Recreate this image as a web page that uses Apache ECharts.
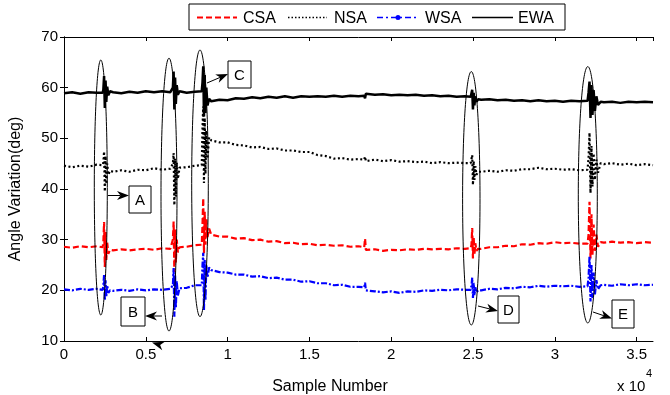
<!DOCTYPE html>
<html>
<head>
<meta charset="utf-8">
<script src="https://cdn.jsdelivr.net/npm/echarts/dist/echarts.min.js"></script>
<style>
  html, body { margin: 0; padding: 0; background: #fff; }
  #chart { width: 670px; height: 395px; }
</style>
</head>
<body>
<div id="chart"></div>
<script>
// sample index (x axis), dense clusters around the five disturbances A..E
const samples = [
  0, 500, 1000, 1500, 2000,
  2360, 2405, 2450, 2495, 2540, 2585, 2640, 2710, 2810,
  3000, 3500, 4000, 4500, 5000, 5500, 6000, 6500,
  6610, 6655, 6700, 6745, 6790, 6835, 6890, 6960, 7060,
  7500, 8000,
  8420, 8465, 8510, 8555, 8600, 8645, 8700, 8770, 8870,
  9000, 9500, 10000, 10500, 11000, 11500, 12000, 12500, 13000, 13500,
  14000, 14500, 15000, 15500, 16000, 16500, 17000, 17500,
  18000, 18350, 18400, 18450,
  19000, 19500, 20000, 20500, 21000, 21500, 22000, 22500, 23000, 23500, 24000, 24500,
  24860, 24905, 24950, 24995, 25040, 25085, 25140, 25210, 25310,
  25500, 26000, 26500, 27000, 27500, 28000, 28500, 29000, 29500, 30000, 30500, 31000, 31500,
  32000, 32060, 32120, 32180, 32240, 32300, 32370, 32450, 32540, 32640,
  32800, 33000, 33500, 34000, 34500, 35000, 35500, 36000
];

const csa = [
  28.6, 28.4, 28.7, 28.5, 28.7,
  28.5, 29.5, 33.5, 24.6, 31.5, 26.0, 29.4, 27.2, 28.0,
  27.9, 28.1, 27.9, 28.1, 28.2, 28.0, 28.3, 28.2,
  28.3, 30.0, 33.6, 23.6, 32.0, 25.5, 30.0, 27.5, 28.5,
  28.6, 28.9,
  29.0, 33.0, 38.2, 27.3, 35.5, 29.0, 34.0, 30.5, 32.2,
  31.0, 30.6, 30.6, 30.2, 30.3, 29.9, 30.0, 29.6, 29.7, 29.3,
  29.4, 29.1, 29.2, 28.9, 29.0, 28.8, 28.9, 28.6,
  28.7, 28.5, 30.2, 28.0,
  28.1, 27.8, 28.0, 27.9, 28.1, 28.0, 28.2, 28.1, 28.2, 28.1, 28.3, 28.2,
  28.3, 29.0, 32.3, 26.3, 30.5, 27.0, 29.3, 27.8, 28.2,
  28.2, 28.5, 28.5, 28.8, 28.7, 29.1, 29.0, 29.3, 29.2, 29.5, 29.3, 29.4, 29.2,
  29.2, 31.0, 37.5, 26.3, 35.0, 27.0, 33.0, 27.8, 31.0, 28.6,
  29.5, 29.4, 29.6, 29.4, 29.5, 29.3, 29.5, 29.4
];

const nsa = [
  44.6, 44.3, 44.6, 44.4, 44.8,
  44.7, 45.2, 47.4, 39.5, 46.5, 41.0, 45.0, 42.8, 43.6,
  43.4, 43.7, 43.4, 43.8, 43.7, 44.1, 43.8, 44.0,
  44.1, 45.0, 47.1, 36.8, 46.0, 38.5, 45.2, 42.0, 44.2,
  44.3, 44.6,
  44.7, 52.0, 56.3, 41.2, 54.0, 43.0, 51.5, 46.0, 50.2,
  49.6, 49.2, 49.2, 48.7, 48.6, 48.2, 48.3, 47.9, 48.0, 47.6,
  47.6, 47.3, 47.3, 46.7, 46.5, 46.0, 46.1, 45.8,
  45.9, 45.8, 46.4, 45.5,
  45.8, 45.5, 45.7, 45.4, 45.5, 45.3, 45.4, 45.1, 45.3, 45.1, 45.2, 45.1,
  45.1, 45.4, 46.7, 40.8, 45.5, 41.8, 44.5, 42.8, 43.4,
  43.4, 43.6, 43.4, 43.7, 43.6, 43.9, 43.9, 44.2, 43.9, 44.0, 43.8, 43.9, 43.7,
  43.8, 46.0, 51.1, 39.2, 48.5, 40.5, 47.0, 41.8, 45.8, 43.2,
  45.1, 44.9, 45.1, 44.8, 45.0, 44.7, 44.9, 44.7
];

const wsa = [
  20.2, 20.0, 20.3, 20.1, 20.3,
  20.1, 20.8, 23.1, 18.1, 22.0, 18.8, 21.0, 19.5, 20.0,
  19.9, 20.1, 19.9, 20.2, 20.0, 20.2, 20.1, 20.3,
  20.2, 21.0, 24.4, 14.8, 23.0, 16.5, 21.8, 19.0, 20.4,
  20.5, 21.0,
  21.0, 25.0, 27.4, 16.1, 26.0, 18.0, 25.0, 22.5, 24.5,
  24.0, 23.6, 23.5, 23.1, 23.1, 22.7, 22.8, 22.4, 22.5, 22.1,
  22.1, 21.7, 21.8, 21.4, 21.4, 21.0, 21.1, 20.7,
  20.7, 20.6, 21.5, 20.0,
  19.8, 19.6, 19.8, 19.5, 19.8, 19.7, 20.0, 19.9, 20.1, 20.0, 20.2, 20.1,
  20.1, 20.8, 22.5, 18.5, 21.5, 19.0, 20.6, 19.6, 20.0,
  20.0, 20.3, 20.2, 20.5, 20.4, 20.7, 20.6, 20.9, 20.7, 20.9, 20.8, 20.9, 20.7,
  20.8, 22.5, 26.7, 17.8, 25.0, 18.5, 23.5, 19.2, 22.0, 20.2,
  21.0, 21.1, 20.9, 21.2, 21.0, 21.2, 21.0, 21.1
];

const ewa = [
  58.9, 59.1, 58.8, 59.1, 59.0,
  59.0, 59.6, 62.3, 56.0, 61.4, 57.2, 60.2, 58.5, 59.3,
  59.1, 58.9, 59.2, 59.0, 59.3, 59.1, 59.3, 59.1,
  59.2, 60.0, 63.2, 55.7, 62.0, 56.8, 60.5, 58.6, 59.3,
  59.0, 59.2,
  59.3, 61.0, 64.2, 54.3, 62.5, 55.0, 60.0, 56.5, 57.8,
  57.3, 57.6, 57.5, 57.9, 57.8, 58.1, 57.9, 58.2, 58.0, 58.3,
  58.0, 58.3, 58.2, 58.3, 58.2, 58.4, 58.2, 58.4,
  58.3, 58.4, 57.9, 58.8,
  58.6, 58.7, 58.5, 58.6, 58.5, 58.6, 58.4, 58.5, 58.3, 58.4, 58.2, 58.3,
  58.2, 58.5, 59.6, 55.7, 59.0, 56.5, 58.3, 57.2, 57.7,
  57.6, 57.7, 57.5, 57.6, 57.4, 57.5, 57.3, 57.5, 57.3, 57.4, 57.2, 57.4, 57.3,
  57.4, 59.0, 61.2, 54.0, 60.5, 54.6, 59.5, 55.4, 58.3, 56.6,
  57.2, 57.1, 57.2, 57.0, 57.2, 57.1, 57.2, 57.1
];

const seriesNames = ['CSA', 'NSA', 'WSA', 'EWA'];
const yTicks = [10, 20, 30, 40, 50, 60, 70];
const eventLabels = ['A', 'B', 'C', 'D', 'E'];

const FONT = '"Liberation Sans", Arial, sans-serif';

// annotation layout (pixels)
const ellipses = [
  {cx: 100.8, cy: 187.5, rx: 6.5, ry: 127.5},
  {cx: 169, cy: 194.6, rx: 8, ry: 136.4},
  {cx: 200, cy: 183.3, rx: 8.3, ry: 133.3},
  {cx: 471.3, cy: 198.3, rx: 8.7, ry: 126.7},
  {cx: 587.8, cy: 194.8, rx: 9.5, ry: 128.2}
];
const boxes = [
  {x: 129, y: 186, w: 22, h: 27, from: [108, 195.5], to: [129, 195.5]},
  {x: 121, y: 297, w: 24, h: 29, from: [162, 316], to: [145, 316]},
  {x: 228, y: 61, w: 23, h: 27, from: [207, 83], to: [228, 74]},
  {x: 498, y: 296, w: 21, h: 27, from: [478, 306], to: [498, 311]},
  {x: 612, y: 300, w: 22, h: 28, from: [593, 312], to: [612, 318.5]}
];

function arrowParts(x1, y1, x2, y2) {
  const len = Math.hypot(x2 - x1, y2 - y1);
  const ux = (x2 - x1) / len, uy = (y2 - y1) / len;
  const hl = 12, hw = 4.5, notch = 3.5;
  const bx = x2 - ux * hl, by = y2 - uy * hl;
  const nx = x2 - ux * (hl - notch), ny = y2 - uy * (hl - notch);
  return [
    {type: 'line', shape: {x1: x1, y1: y1, x2: nx, y2: ny}, style: {stroke: '#000', lineWidth: 1}, z: 100},
    {type: 'polygon', shape: {points: [[x2, y2], [bx - uy * hw, by + ux * hw], [nx, ny], [bx + uy * hw, by - ux * hw]]},
      style: {fill: '#000'}, z: 100}
  ];
}

const graphics = [];
ellipses.forEach(e => {
  graphics.push({type: 'ellipse', shape: e, style: {stroke: '#000', fill: null, lineWidth: 1}, z: 90});
});
boxes.forEach((b, i) => {
  graphics.push({type: 'rect', shape: {x: b.x, y: b.y, width: b.w, height: b.h},
    style: {stroke: '#000', fill: '#fff', lineWidth: 1}, z: 100});
  graphics.push({type: 'text', x: b.x + b.w / 2, y: b.y + b.h / 2 + 1,
    style: {text: eventLabels[i], font: '15px ' + FONT, fill: '#000', align: 'center', verticalAlign: 'middle'}, z: 101});
  graphics.push(...arrowParts(b.from[0], b.from[1], b.to[0], b.to[1]));
});
// stray arrow head under the axis
graphics.push(arrowParts(167, 347, 152, 342.5)[1]);

// legend box
const legY = 17.5;
graphics.push(
  {type: 'rect', shape: {x: 189, y: 4, width: 376, height: 26}, style: {stroke: '#000', fill: '#fff', lineWidth: 1}, z: 100},
  {type: 'line', shape: {x1: 197, y1: legY, x2: 237, y2: legY}, style: {stroke: '#ff0000', lineWidth: 2, lineDash: [6, 3]}, z: 101},
  {type: 'line', shape: {x1: 288, y1: legY, x2: 327, y2: legY}, style: {stroke: '#000', lineWidth: 1.5, lineDash: [1.5, 2]}, z: 101},
  {type: 'line', shape: {x1: 377, y1: legY, x2: 419, y2: legY}, style: {stroke: '#0000ff', lineWidth: 1.5, lineDash: [6, 3, 2, 3]}, z: 101},
  {type: 'circle', shape: {cx: 398, cy: legY, r: 2.5}, style: {fill: '#0000ff'}, z: 102},
  {type: 'line', shape: {x1: 472, y1: legY, x2: 513, y2: legY}, style: {stroke: '#000', lineWidth: 1.5}, z: 101}
);
[243, 334, 425, 518].forEach((x, i) => {
  graphics.push({type: 'text', x: x, y: legY + 1,
    style: {text: seriesNames[i], font: '16px ' + FONT, fill: '#000', verticalAlign: 'middle'}, z: 101});
});

// x axis name and exponent
graphics.push(
  {type: 'text', x: 330, y: 387, style: {text: 'Sample Number', font: '16px ' + FONT, fill: '#000', align: 'center', verticalAlign: 'middle'}},
  {type: 'text', x: 617, y: 387, style: {text: 'x 10', font: '15px ' + FONT, fill: '#000', verticalAlign: 'middle'}},
  {type: 'text', x: 646, y: 374, style: {text: '4', font: '11px ' + FONT, fill: '#000', verticalAlign: 'middle'}}
);

const axisCommon = {
  axisLine: {show: true, lineStyle: {color: '#000', width: 1}},
  axisTick: {show: true, inside: true, length: 4, lineStyle: {color: '#000'}},
  splitLine: {show: false}
};

const chart = echarts.init(document.getElementById('chart'), null, {renderer: 'canvas'});
chart.setOption({
  animation: false,
  backgroundColor: '#fff',
  grid: {left: 59, top: 37, width: 594, height: 304, containLabel: false},
  xAxis: [
    Object.assign({
      type: 'value', min: 0, max: 36000, interval: 5000, position: 'bottom',
      axisLabel: {
        color: '#000', fontSize: 15, fontFamily: FONT, margin: 6, showMaxLabel: false,
        formatter: v => (v % 5000 === 0 ? String(v / 10000) : '')
      }
    }, axisCommon),
    Object.assign({
      type: 'value', min: 0, max: 36000, interval: 5000, position: 'top',
      axisLabel: {show: false}
    }, axisCommon)
  ],
  yAxis: [
    Object.assign({
      type: 'value', min: yTicks[0], max: yTicks[yTicks.length - 1], interval: 10, position: 'left',
      name: 'Angle Variation(deg)', nameLocation: 'middle', nameGap: 40,
      nameTextStyle: {color: '#000', fontSize: 16, fontFamily: FONT},
      axisLabel: {color: '#000', fontSize: 15, fontFamily: FONT, margin: 6}
    }, axisCommon),
    Object.assign({
      type: 'value', min: yTicks[0], max: yTicks[yTicks.length - 1], interval: 10, position: 'right',
      axisLabel: {show: false}
    }, axisCommon)
  ],
  series: [
    {name: 'CSA', data: csa, color: '#ff0000', dash: [6, 3], width: 2.2},
    {name: 'NSA', data: nsa, color: '#000000', dash: [2, 2.5], width: 2.2},
    {name: 'WSA', data: wsa, color: '#0000ff', dash: [6, 2, 2, 2], width: 2.2},
    {name: 'EWA', data: ewa, color: '#000000', dash: 'solid', width: 2.5}
  ].map(s => ({
    name: s.name,
    type: 'line',
    xAxisIndex: 0,
    yAxisIndex: 0,
    symbol: 'none',
    showSymbol: false,
    clip: true,
    data: samples.map((x, i) => [x, s.data[i]]),
    lineStyle: {color: s.color, width: s.width, type: s.dash},
    itemStyle: {color: s.color}
  })),
  graphic: graphics
});
</script>
</body>
</html>
